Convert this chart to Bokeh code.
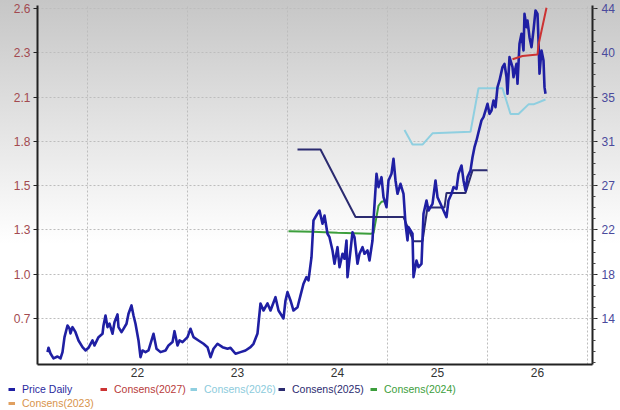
import numpy as np
from bokeh.plotting import figure
from bokeh.layouts import column
from bokeh.models import (Range1d, LinearAxis, FixedTicker, CustomJSTickFormatter,
                          Legend, LegendItem)
from bokeh.embed import file_html
from bokeh.resources import INLINE

# ---------------- data (decimal years) ----------------
price_dates = [
    2021.10, 2021.11, 2021.13, 2021.16, 2021.20, 2021.23, 2021.25, 2021.27, 2021.30, 2021.32,
    2021.33, 2021.35, 2021.38, 2021.41, 2021.45, 2021.48, 2021.51, 2021.55, 2021.57, 2021.61,
    2021.65, 2021.66, 2021.68, 2021.70, 2021.72, 2021.75, 2021.77, 2021.80, 2021.81, 2021.84,
    2021.86, 2021.89, 2021.91, 2021.94, 2021.96, 2021.98, 2022.01, 2022.03, 2022.05, 2022.08,
    2022.11, 2022.15, 2022.16, 2022.19, 2022.23, 2022.28, 2022.31, 2022.35, 2022.37, 2022.40,
    2022.42, 2022.45, 2022.50, 2022.53, 2022.56, 2022.61, 2022.66, 2022.70, 2022.73, 2022.76,
    2022.80, 2022.85, 2022.90, 2022.93, 2022.98, 2023.03, 2023.08, 2023.13, 2023.16, 2023.20,
    2023.23, 2023.26, 2023.30, 2023.33, 2023.38, 2023.41, 2023.46, 2023.48, 2023.50, 2023.53,
    2023.56, 2023.60, 2023.63, 2023.66, 2023.69, 2023.71, 2023.74, 2023.76, 2023.80, 2023.82,
    2023.85, 2023.87, 2023.90, 2023.92, 2023.95, 2023.97, 2024.00, 2024.02, 2024.05, 2024.07,
    2024.09, 2024.10, 2024.13, 2024.15, 2024.17, 2024.20, 2024.22, 2024.25, 2024.27, 2024.30,
    2024.32, 2024.35, 2024.36, 2024.39, 2024.41, 2024.44, 2024.46, 2024.49, 2024.51, 2024.54,
    2024.56, 2024.58, 2024.60, 2024.63, 2024.66, 2024.68, 2024.70, 2024.71, 2024.75, 2024.76,
    2024.79, 2024.81, 2024.84, 2024.86, 2024.89, 2024.91, 2024.95, 2024.98, 2025.00, 2025.03,
    2025.06, 2025.09, 2025.11, 2025.14, 2025.16, 2025.19, 2025.21, 2025.24, 2025.26, 2025.28,
    2025.30, 2025.33, 2025.35, 2025.37, 2025.39, 2025.41, 2025.44, 2025.46, 2025.48, 2025.50,
    2025.52, 2025.54, 2025.56, 2025.58, 2025.60, 2025.62, 2025.65, 2025.67, 2025.69, 2025.70,
    2025.72, 2025.75, 2025.76, 2025.79, 2025.80, 2025.82, 2025.84, 2025.86, 2025.87, 2025.89,
    2025.90, 2025.92, 2025.94, 2025.96, 2025.98, 2026.00, 2026.01, 2026.02, 2026.04, 2026.06,
    2026.07, 2026.08,
]
price_values = [
    10.74, 11.16, 10.61, 10.13, 10.32, 10.13, 10.74, 12.19, 13.32, 13.03,
    12.55, 13.16, 12.67, 11.87, 11.22, 10.90, 11.16, 11.87, 11.39, 12.19,
    12.52, 13.32, 14.29, 13.16, 13.49, 12.52, 13.64, 14.39, 13.16, 12.67,
    13.00, 13.49, 14.45, 15.26, 14.29, 13.49, 11.87, 10.25, 10.90, 10.74,
    10.90, 12.19, 12.52, 11.07, 10.74, 10.90, 11.39, 11.71, 12.77, 11.39,
    11.87, 11.71, 12.19, 13.00, 12.19, 11.87, 11.55, 11.22, 10.25, 11.07,
    11.55, 11.22, 11.07, 11.16, 10.58, 10.74, 10.90, 11.22, 11.55, 12.55,
    15.45, 14.77, 15.45, 14.77, 16.06, 14.77, 14.00, 15.74, 16.55, 15.74,
    14.77, 15.09, 16.23, 17.36, 18.00, 17.68, 19.93, 23.49, 24.16, 24.45,
    23.17, 23.97, 22.20, 21.87, 20.58, 19.29, 20.90, 18.97, 20.26, 19.78,
    21.55, 18.00, 20.58, 22.35, 21.87, 19.29, 20.26, 20.90, 20.26, 20.58,
    19.61, 21.55, 23.49, 28.01, 26.71, 27.68, 25.74, 24.77, 27.36, 28.01,
    29.46, 27.36, 26.07, 27.04, 26.07, 23.17, 21.55, 22.84, 22.20, 18.00,
    19.61, 18.97, 19.29, 24.13, 25.42, 24.45, 25.10, 27.36, 25.74, 25.10,
    24.45, 23.81, 25.42, 26.07, 26.71, 26.55, 28.01, 28.81, 27.36, 26.39,
    27.68, 28.33, 29.61, 30.58, 31.23, 32.03, 33.17, 33.49, 34.13, 34.78,
    33.81, 34.13, 35.10, 34.45, 36.39, 37.04, 38.33, 38.65, 37.36, 35.75,
    39.30, 38.33, 37.36, 38.65, 36.72, 40.59, 41.56, 39.94, 43.49, 42.20,
    42.84, 41.23, 40.26, 41.88, 43.81, 43.49, 40.91, 37.69, 39.94, 38.97,
    36.39, 35.75,
]

c2027_dates = [2025.75, 2025.85, 2026.00, 2026.01, 2026.09]
c2027_values = [2.31, 2.33, 2.34, 2.40, 2.63]

c2026_dates = [2024.67, 2024.75, 2024.85, 2024.95, 2025.33, 2025.41, 2025.65, 2025.73,
               2025.81, 2025.91, 2025.96, 2026.08]
c2026_values = [1.87, 1.78, 1.78, 1.85, 1.86, 2.13, 2.13, 1.97, 1.97, 2.03, 2.03, 2.06]

c2025_dates = [2023.60, 2023.83, 2024.18, 2024.66, 2024.76, 2024.85, 2024.90, 2025.07,
               2025.09, 2025.28, 2025.35, 2025.50]
c2025_values = [1.75, 1.75, 1.33, 1.33, 1.18, 1.18, 1.39, 1.39, 1.48, 1.48, 1.62, 1.62]

c2024_dates = [2023.51, 2023.75, 2024.00, 2024.33, 2024.36, 2024.41, 2024.44, 2024.50]
c2024_values = [1.242, 1.238, 1.232, 1.226, 1.23, 1.40, 1.425, 1.433]

c2023_dates = []
c2023_values = []

year_ticks = [2022, 2023, 2024, 2025, 2026]
year_labels = ["22", "23", "24", "25", "26"]
eps_tick_labels = ["0.7", "1.0", "1.3", "1.5", "1.8", "2.1", "2.3", "2.6"]
price_tick_labels = ["14", "18", "22", "27", "31", "35", "40", "44"]

# ---------------- styling ----------------
FONT = "Liberation Sans"
C_PRICE = "#1f1fa3"
C_2027 = "#cc3333"
C_2026 = "#8fcfe0"
C_2025 = "#2b2b70"
C_2024 = "#3c9e3c"
C_2023 = "#e0a060"

eps_ticks = [0.7 + 0.275 * i for i in range(8)]
price_ticks = [14 + (30 / 7) * i for i in range(8)]
price_minor = list(np.arange(14 - 4 * (30 / 28), 44.3, 30 / 28))

p = figure(width=620, height=381, output_backend="svg", toolbar_location=None,
           x_range=Range1d(2021.0, 2026.55), y_range=Range1d(0.414, 2.644),
           min_border_left=37, min_border_right=28, min_border_top=5,
           min_border_bottom=17)
p.extra_y_ranges = {"price": Range1d(9.543, 44.296)}
p.background_fill_color = None
p.border_fill_color = None
p.outline_line_color = None
p.frame_align = False
p.styles = {"background": "linear-gradient(to bottom, #c6c6c6 0%, #ffffff 64%)"}

# x axis
xa = p.xaxis[0]
xa.ticker = FixedTicker(ticks=year_ticks)
xa.formatter = CustomJSTickFormatter(args=dict(labels=year_labels), code="return labels[index];")
xa.major_tick_line_color = None
xa.minor_tick_line_color = None
xa.major_tick_out = 0
xa.minor_tick_out = 0
xa.axis_line_width = 2
xa.axis_line_color = "#222222"
xa.major_label_text_font = FONT
xa.major_label_text_font_size = "12px"
xa.major_label_text_color = "#333333"
xa.major_label_standoff = 3

# left axis (EPS)
ya = p.yaxis[0]
ya.ticker = FixedTicker(ticks=eps_ticks)
ya.formatter = CustomJSTickFormatter(args=dict(labels=eps_tick_labels), code="return labels[index];")
ya.minor_tick_line_color = None
ya.major_tick_out = 4
ya.major_tick_in = 0
ya.axis_line_width = 2
ya.axis_line_color = "#222222"
ya.major_tick_line_color = "#222222"
ya.major_label_text_font = FONT
ya.major_label_text_font_size = "12px"
ya.major_label_text_color = "#a24a50"
ya.major_label_standoff = 3

# right axis (price)
ra = LinearAxis(y_range_name="price")
ra.ticker = FixedTicker(ticks=price_ticks, minor_ticks=price_minor)
ra.formatter = CustomJSTickFormatter(args=dict(labels=price_tick_labels), code="return labels[index];")
ra.major_tick_out = 5
ra.major_tick_in = 0
ra.minor_tick_out = 3
ra.minor_tick_in = 0
ra.axis_line_width = 2
ra.axis_line_color = "#222222"
ra.major_tick_line_color = "#222222"
ra.minor_tick_line_color = "#444444"
ra.major_label_text_font = FONT
ra.major_label_text_font_size = "12px"
ra.major_label_text_color = "#4a4a9c"
ra.major_label_standoff = 4
p.add_layout(ra, "right")

# grids
p.xgrid.ticker = FixedTicker(ticks=[2021.5, 2022.5, 2023.5, 2024.5, 2025.5, 2026.5])
for g in (p.xgrid[0], p.ygrid[0]):
    g.grid_line_color = "#bdbdbd"
    g.grid_line_dash = "2 2"
    g.grid_line_width = 1

# series
r_2024 = p.line(c2024_dates, c2024_values, line_color=C_2024, line_width=2)
r_2026 = p.line(c2026_dates, c2026_values, line_color=C_2026, line_width=2)
r_2025 = p.line(c2025_dates, c2025_values, line_color=C_2025, line_width=2)
r_price = p.line(price_dates, price_values, y_range_name="price", line_color=C_PRICE,
                 line_width=2.6, line_join="round")
r_2027 = p.line(c2027_dates, c2027_values, line_color=C_2027, line_width=2)
r_2023 = p.line(c2023_dates, c2023_values, line_color=C_2023, line_width=2)

# ---------------- legend strip (separate small figure, no axes) ----------------
lf = figure(width=620, height=29, output_backend="svg", toolbar_location=None,
            x_range=Range1d(0, 1), y_range=Range1d(0, 1),
            x_axis_location=None, y_axis_location=None,
            min_border=0, min_border_left=0, min_border_right=0,
            min_border_top=0, min_border_bottom=0)
lf.frame_align = False
lf.grid.visible = False
lf.outline_line_color = None
lf.background_fill_color = "white"
lf.border_fill_color = "white"

legend_specs = [
    ("Price Daily", C_PRICE, "#2a2a9e", (8, 15)),
    ("Consens(2027)", C_2027, "#b83a3a", (100, 15)),
    ("Consens(2026)", C_2026, "#8ccbdc", (190, 15)),
    ("Consens(2025)", C_2025, C_2025, (278, 15)),
    ("Consens(2024)", C_2024, "#3c9e3c", (370, 15)),
    ("Consens(2023)", C_2023, "#d8944c", (8, 1)),
]
for label, line_col, text_col, loc in legend_specs:
    # legend key only: a single off-range point, so nothing is drawn in the strip
    key = lf.line([-1], [-1], line_color=line_col, line_width=3)
    leg = Legend(items=[LegendItem(label=label, renderers=[key])], location=loc,
                 margin=0, padding=0, spacing=0, glyph_width=7, glyph_height=12,
                 label_height=12, label_standoff=7, border_line_color=None,
                 background_fill_alpha=0, label_text_font=FONT,
                 label_text_font_size="10.5px", label_text_color=text_col)
    lf.add_layout(leg)

open("out.html", "w").write(file_html(column(p, lf, spacing=0), INLINE))
